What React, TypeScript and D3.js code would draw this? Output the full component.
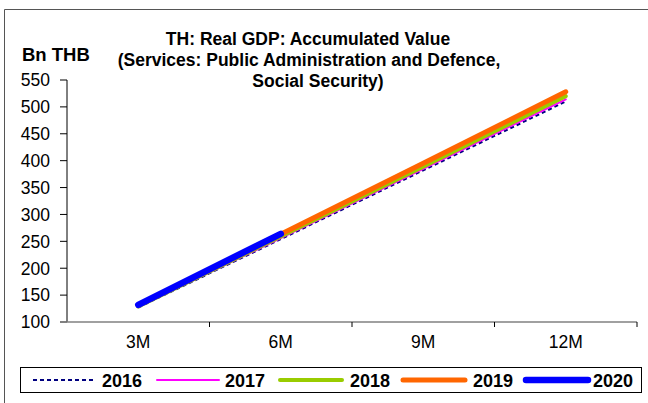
import React from "react";
import * as d3 from "d3";

const categories = ["3M", "6M", "9M", "12M"];
const yTicks = [100, 150, 200, 250, 300, 350, 400, 450, 500, 550];
const s2016 = [127, 254, 382, 510];
const s2017 = [128, 256, 385, 514];
const s2018 = [129, 259, 389, 520];
const s2019 = [131, 263, 395, 528];
const s2020 = [132, 264];
const seriesNames = ["2016", "2017", "2018", "2019", "2020"];

const W = 648;
const H = 403;
const FONT = "'Liberation Sans', Arial, sans-serif";

export default function App() {
  const x = d3.scaleBand<string>().domain(categories).range([67, 637]).paddingInner(0).paddingOuter(0);
  const y = d3.scaleLinear().domain([100, 550]).range([322, 80]);
  const cx = (c: string) => (x(c) as number) + x.bandwidth() / 2;

  const styles = [
    { color: "#000080", width: 2, dash: "4,3" },
    { color: "#FF00FF", width: 2, dash: null },
    { color: "#99CC00", width: 4, dash: null },
    { color: "#FF6600", width: 5, dash: null },
    { color: "#0000FF", width: 6.5, dash: null },
  ];
  const allSeries = [s2016, s2017, s2018, s2019, s2020];
  const line = d3
    .line<number>()
    .x((_, i) => cx(categories[i]))
    .y((d) => y(d));

  const legendItems = [
    { lx: 33, tx: 102 },
    { lx: 157, tx: 225 },
    { lx: 280, tx: 350 },
    { lx: 403, tx: 473 },
    { lx: 526, tx: 593 },
  ];

  const boundaries = [...categories.map((c) => x(c) as number), 637];

  return (
    <svg width={W} height={H} style={{ position: "absolute", left: 0, top: 0 }} fontFamily={FONT}>
      <rect x={0} y={0} width={W} height={H} fill="#fff" />
      {/* outer frame */}
      <path d={`M4.5,${H + 2} V9.5 H${W + 2}`} fill="none" stroke="#555" strokeWidth={1} />

      {/* title */}
      <g fontWeight="bold" fontSize={17.5} textAnchor="middle" fill="#000">
        <text x={308} y={45}>TH: Real GDP: Accumulated Value</text>
        <text x={309} y={66}>(Services: Public Administration and Defence,</text>
        <text x={318} y={87}>Social Security)</text>
      </g>
      <text x={22} y={61} fontWeight="bold" fontSize={18.5} fill="#000">
        Bn THB
      </text>

      {/* y axis */}
      <line x1={67} x2={67} y1={y(550)} y2={y(100)} stroke="#000" strokeWidth={1} />
      {yTicks.map((t) => (
        <g key={t}>
          <line x1={60} x2={67} y1={y(t)} y2={y(t)} stroke="#000" strokeWidth={1} />
          <text x={50} y={y(t)} dy="0.36em" textAnchor="end" fontSize={17.5} fill="#000">
            {t}
          </text>
        </g>
      ))}

      {/* x axis */}
      <line x1={60} x2={637} y1={y(100)} y2={y(100)} stroke="#808080" strokeWidth={1.5} />
      {boundaries.slice(1).map((b, i) => (
        <line key={i} x1={b} x2={b} y1={y(100)} y2={y(100) + 5} stroke="#000" strokeWidth={1} />
      ))}
      {categories.map((c) => (
        <text key={c} x={cx(c)} y={348} textAnchor="middle" fontSize={17.5} fill="#000">
          {c}
        </text>
      ))}

      {/* series */}
      {allSeries.map((s, i) => (
        <path
          key={i}
          d={line(s) as string}
          fill="none"
          stroke={styles[i].color}
          strokeWidth={styles[i].width}
          strokeDasharray={styles[i].dash ?? undefined}
          strokeLinecap={styles[i].dash ? "butt" : "round"}
          strokeLinejoin="round"
        />
      ))}

      {/* legend */}
      <rect x={20.5} y={367.5} width={621} height={25} fill="#fff" stroke="#000" strokeWidth={1} />
      {seriesNames.map((n, i) => (
        <g key={n}>
          <line
            x1={legendItems[i].lx}
            x2={legendItems[i].lx + 62}
            y1={380}
            y2={380}
            stroke={styles[i].color}
            strokeWidth={styles[i].width}
            strokeDasharray={styles[i].dash ?? undefined}
            strokeLinecap={styles[i].dash ? "butt" : "round"}
          />
          <text x={legendItems[i].tx} y={386.5} fontWeight="bold" fontSize={18} fill="#000">
            {n}
          </text>
        </g>
      ))}
    </svg>
  );
}
